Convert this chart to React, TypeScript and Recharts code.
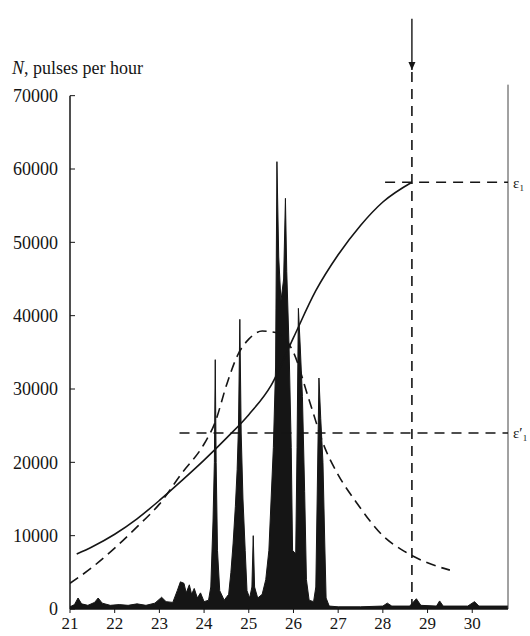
import React from 'react';
import {
  ComposedChart,
  Area,
  Line,
  XAxis,
  YAxis,
  ReferenceLine,
  ReferenceDot,
} from 'recharts';

// energy axis (x) and count-rate axis (y)
const xTicks = [21, 22, 23, 24, 25, 26, 27, 28, 29, 30];
const yTicks = [0, 10000, 20000, 30000, 40000, 50000, 60000, 70000];

// measured pulse rate, traced outline of the black spectrum
const pulses = [
  { x: 21.0, n: 300 }, { x: 21.1, n: 600 }, { x: 21.18, n: 1500 }, { x: 21.26, n: 700 },
  { x: 21.4, n: 500 }, { x: 21.55, n: 900 }, { x: 21.63, n: 1500 }, { x: 21.72, n: 800 },
  { x: 21.9, n: 500 }, { x: 22.1, n: 600 }, { x: 22.3, n: 500 }, { x: 22.5, n: 700 },
  { x: 22.7, n: 500 }, { x: 22.9, n: 800 }, { x: 23.05, n: 1600 }, { x: 23.15, n: 1000 },
  { x: 23.3, n: 900 }, { x: 23.4, n: 2500 }, { x: 23.47, n: 3700 }, { x: 23.55, n: 3500 },
  { x: 23.6, n: 2200 }, { x: 23.67, n: 3300 }, { x: 23.72, n: 2000 }, { x: 23.78, n: 2800 },
  { x: 23.85, n: 1500 }, { x: 23.92, n: 2200 }, { x: 24.0, n: 1000 }, { x: 24.1, n: 1200 },
  { x: 24.15, n: 3000 }, { x: 24.2, n: 12000 }, { x: 24.23, n: 20000 }, { x: 24.25, n: 34000 },
  { x: 24.27, n: 20000 }, { x: 24.3, n: 8000 }, { x: 24.35, n: 2500 }, { x: 24.45, n: 1200 },
  { x: 24.55, n: 2000 }, { x: 24.6, n: 5000 }, { x: 24.65, n: 9000 }, { x: 24.7, n: 14000 },
  { x: 24.74, n: 19000 }, { x: 24.77, n: 25000 }, { x: 24.8, n: 39500 }, { x: 24.83, n: 24000 },
  { x: 24.87, n: 15000 }, { x: 24.92, n: 8000 }, { x: 24.96, n: 2500 }, { x: 25.02, n: 1500 },
  { x: 25.07, n: 3000 }, { x: 25.1, n: 10000 }, { x: 25.13, n: 3000 }, { x: 25.2, n: 1500 },
  { x: 25.3, n: 2000 }, { x: 25.38, n: 4000 }, { x: 25.45, n: 8000 }, { x: 25.5, n: 15000 },
  { x: 25.55, n: 22000 }, { x: 25.6, n: 33000 }, { x: 25.63, n: 61000 }, { x: 25.67, n: 48000 },
  { x: 25.72, n: 42000 }, { x: 25.78, n: 45000 }, { x: 25.82, n: 56000 }, { x: 25.85, n: 46000 },
  { x: 25.9, n: 36000 }, { x: 25.95, n: 22000 }, { x: 25.98, n: 8000 }, { x: 26.05, n: 7500 },
  { x: 26.08, n: 22000 }, { x: 26.11, n: 41000 }, { x: 26.15, n: 36000 }, { x: 26.2, n: 29000 },
  { x: 26.25, n: 16000 }, { x: 26.29, n: 4000 }, { x: 26.35, n: 1200 }, { x: 26.45, n: 1000 },
  { x: 26.5, n: 3000 }, { x: 26.53, n: 15000 }, { x: 26.57, n: 31500 }, { x: 26.61, n: 26000 },
  { x: 26.66, n: 20000 }, { x: 26.7, n: 9000 }, { x: 26.73, n: 1500 }, { x: 26.8, n: 400 },
  { x: 27.0, n: 300 }, { x: 27.5, n: 300 }, { x: 28.0, n: 400 }, { x: 28.1, n: 800 },
  { x: 28.2, n: 400 }, { x: 28.6, n: 400 }, { x: 28.75, n: 1400 }, { x: 28.85, n: 500 },
  { x: 29.2, n: 400 }, { x: 29.27, n: 1100 }, { x: 29.35, n: 400 }, { x: 29.9, n: 400 },
  { x: 30.05, n: 1000 }, { x: 30.15, n: 400 }, { x: 30.8, n: 400 },
];

// solid curve (integral)
const integral = [
  { x: 21.15, n: 7500 }, { x: 21.5, n: 8500 }, { x: 22, n: 10200 }, { x: 22.5, n: 12300 },
  { x: 23, n: 14800 }, { x: 23.5, n: 17500 }, { x: 24, n: 20300 }, { x: 24.5, n: 23300 },
  { x: 25, n: 26500 }, { x: 25.5, n: 30500 }, { x: 26, n: 37000 }, { x: 26.5, n: 43400 },
  { x: 27, n: 48300 }, { x: 27.5, n: 52300 }, { x: 28, n: 55500 }, { x: 28.65, n: 58200 },
];

// dashed curve (fitted distribution)
const fitted = [
  { x: 21, n: 3500 }, { x: 21.5, n: 5700 }, { x: 22, n: 8300 }, { x: 22.5, n: 11200 },
  { x: 23, n: 14300 }, { x: 23.5, n: 18500 }, { x: 24, n: 22500 }, { x: 24.25, n: 25500 },
  { x: 24.5, n: 30500 }, { x: 24.75, n: 34600 }, { x: 25, n: 36800 }, { x: 25.3, n: 37900 },
  { x: 25.6, n: 37700 }, { x: 26, n: 35000 }, { x: 26.35, n: 28500 }, { x: 26.7, n: 22000 },
  { x: 27, n: 18300 }, { x: 27.4, n: 14600 }, { x: 28, n: 10000 }, { x: 28.5, n: 7800 },
  { x: 29, n: 6300 }, { x: 29.5, n: 5300 },
];

const E_MARK = 28.65;
const LEVEL_1 = 58200;
const LEVEL_2 = 24000;

const INK = '#151515';
const SERIF = '"Liberation Serif", "DejaVu Serif", serif';

function YTick({ x, y, payload }: any) {
  return (
    <g>
      <line x1={x + 12} x2={x + 17} y1={y} y2={y} stroke={INK} strokeWidth={1} />
      <text x={x} y={y} dy="0.36em" textAnchor="end" fontSize={18} fontFamily={SERIF} fill={INK}>
        {payload.value}
      </text>
    </g>
  );
}

function ArrowHead({ cx, cy }: any) {
  return <path d={`M${cx - 3.5},${cy - 8} L${cx + 3.5},${cy - 8} L${cx},${cy} Z`} fill={INK} />;
}

export default function App() {
  return (
    <div style={{ position: 'absolute', left: 0, top: 0, width: 530, height: 636, background: '#fff' }}>
      <div
        style={{
          position: 'absolute',
          left: 12,
          top: 58,
          fontFamily: SERIF,
          fontSize: 18,
          color: INK,
          whiteSpace: 'nowrap',
        }}
      >
        <i>N</i>, pulses per hour
      </div>
      <ComposedChart width={530} height={636} margin={{ top: 15, right: 22, bottom: 0, left: 0 }}>
        <XAxis
          dataKey="x"
          type="number"
          domain={[21, 30.8]}
          ticks={xTicks}
          interval={0}
          allowDataOverflow
          height={27}
          tickSize={4}
          tickMargin={4}
          axisLine={{ stroke: INK, strokeWidth: 1.5 }}
          tickLine={{ stroke: INK }}
          tick={{ fill: INK, fontSize: 17, fontFamily: SERIF }}
        />
        <YAxis
          type="number"
          domain={[0, 81000]}
          ticks={yTicks}
          interval={0}
          width={70}
          axisLine={false}
          tickLine={false}
          tickSize={0}
          tickMargin={12}
          tick={<YTick />}
        />
        {/* left axis and right frame line */}
        <ReferenceLine segment={[{ x: 21, y: 0 }, { x: 21, y: 70000 }]} stroke={INK} strokeWidth={1.5} />
        <ReferenceLine segment={[{ x: 30.8, y: 0 }, { x: 30.8, y: 71500 }]} stroke="#444" strokeWidth={1} />

        <Area
          data={pulses}
          dataKey="n"
          type="linear"
          stroke={INK}
          strokeWidth={1}
          fill={INK}
          fillOpacity={1}
          isAnimationActive={false}
        />
        <Line
          data={fitted}
          dataKey="n"
          type="monotone"
          stroke={INK}
          strokeWidth={1.6}
          strokeDasharray="10 6"
          dot={false}
          isAnimationActive={false}
        />
        <Line
          data={integral}
          dataKey="n"
          type="monotone"
          stroke={INK}
          strokeWidth={1.6}
          dot={false}
          isAnimationActive={false}
        />

        <ReferenceLine
          segment={[{ x: 28.05, y: LEVEL_1 }, { x: 30.8, y: LEVEL_1 }]}
          stroke={INK}
          strokeWidth={1.6}
          strokeDasharray="10 7"
          label={{ value: 'ε₁', position: 'right', offset: 5, fill: INK, fontSize: 15, fontFamily: SERIF }}
        />
        <ReferenceLine
          segment={[{ x: 23.45, y: LEVEL_2 }, { x: 30.8, y: LEVEL_2 }]}
          stroke={INK}
          strokeWidth={1.6}
          strokeDasharray="10 7"
          label={{ value: 'ε′₁', position: 'right', offset: 5, fill: INK, fontSize: 15, fontFamily: SERIF }}
        />
        <ReferenceLine
          segment={[{ x: E_MARK, y: 0 }, { x: E_MARK, y: 73500 }]}
          stroke={INK}
          strokeWidth={1.6}
          strokeDasharray="10 7"
        />
        <ReferenceLine
          segment={[{ x: E_MARK, y: 73500 }, { x: E_MARK, y: 80500 }]}
          stroke={INK}
          strokeWidth={1.4}
        />
        <ReferenceDot x={E_MARK} y={73500} r={4} shape={<ArrowHead />} />
      </ComposedChart>
    </div>
  );
}
